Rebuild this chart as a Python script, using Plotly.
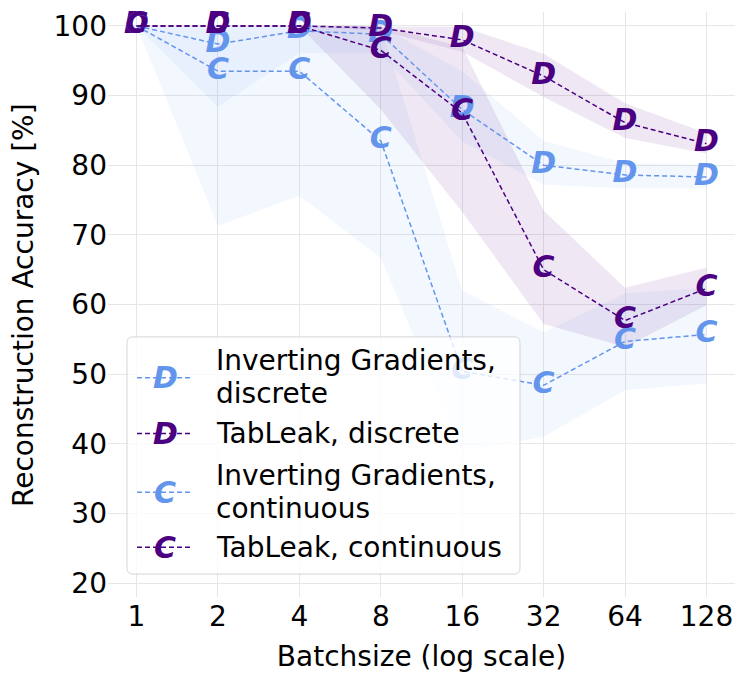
import plotly.graph_objects as go

# ---------------- data ----------------
batch_sizes = [1, 2, 4, 8, 16, 32, 64, 128]
tick_labels = ["1", "2", "4", "8", "16", "32", "64", "128"]

ig_disc = [100, 97.4, 99.3, 98.8, 88.0, 80.0, 78.6, 78.3]
tl_disc = [100, 100, 100, 99.7, 98.0, 92.8, 86.1, 83.1]
ig_cont = [100, 93.5, 93.5, 83.5, 50.4, 48.4, 54.7, 55.7]
tl_cont = [100, 100, 100, 96.5, 87.5, 65.0, 57.7, 62.3]

ig_disc_lo = [100, 88.4, 96.1, 96.0, 83.4, 77.2, 76.7, 76.7]
ig_disc_hi = [100, 100, 100, 100, 93.5, 83.5, 80.3, 80.1]
tl_disc_lo = [100, 100, 100, 99.3, 96.3, 89.8, 83.9, 81.7]
tl_disc_hi = [100, 100, 100, 100, 99.9, 96.0, 88.9, 84.6]
ig_cont_lo = [100, 71.3, 75.6, 66.7, 38.9, 41.0, 47.7, 48.7]
ig_cont_hi = [100, 100, 100, 100, 62.0, 56.0, 61.6, 62.4]
tl_cont_lo = [100, 100, 100, 88.0, 73.3, 57.2, 53.9, 59.9]
tl_cont_hi = [100, 100, 100, 100, 97.0, 73.5, 62.4, 65.3]

series_names = ["Inverting Gradients,<br>discrete", "TabLeak, discrete",
                "Inverting Gradients,<br>continuous", "TabLeak, continuous"]
series_letters = ["D", "D", "C", "C"]

# ---------------- style ----------------
BLUE = "#6495ED"
PURPLE = "#4B0082"
BLUE_FILL = "rgba(100,149,237,0.08)"
PURPLE_FILL = "rgba(75,0,130,0.09)"
FONT = "DejaVu Sans"
MK = 30

W, H = 747, 680
L, R, T, B = 108, 12, 10, 83
PW, PH = W - L - R, H - T - B


def px(x):
    return (x - L) / PW


def py(y):
    return (H - B - y) / PH


series = [
    (ig_disc, ig_disc_lo, ig_disc_hi, BLUE, BLUE_FILL),
    (tl_disc, tl_disc_lo, tl_disc_hi, PURPLE, PURPLE_FILL),
    (ig_cont, ig_cont_lo, ig_cont_hi, BLUE, BLUE_FILL),
    (tl_cont, tl_cont_lo, tl_cont_hi, PURPLE, PURPLE_FILL),
]

fig = go.Figure()

# bands
for vals, lo, hi, col, fill in series:
    fig.add_trace(go.Scatter(x=batch_sizes, y=lo, mode="lines",
                             line=dict(width=0, color=fill), showlegend=False,
                             hoverinfo="skip"))
    fig.add_trace(go.Scatter(x=batch_sizes, y=hi, mode="lines", fill="tonexty",
                             fillcolor=fill, line=dict(width=0, color=fill),
                             showlegend=False, hoverinfo="skip"))

# lines with letter markers
for (vals, lo, hi, col, fill), name, letter in zip(series, series_names, series_letters):
    fig.add_trace(go.Scatter(
        x=batch_sizes, y=vals, mode="lines+text", name=name,
        text=[letter] * len(vals), textposition="middle center",
        textfont=dict(family=FONT, size=MK, color=col, weight="bold", style="italic"),
        line=dict(color=col, width=1.5, dash="5px,3px"),
        cliponaxis=False, showlegend=False))

# ---------------- legend (drawn manually) ----------------
shapes = []
annotations = []
bx0, bx1, by0, by1 = 127, 520, 336, 574
r = 6
path = (f"M {px(bx0 + r)},{py(by0)} L {px(bx1 - r)},{py(by0)} "
        f"Q {px(bx1)},{py(by0)} {px(bx1)},{py(by0 + r)} "
        f"L {px(bx1)},{py(by1 - r)} Q {px(bx1)},{py(by1)} {px(bx1 - r)},{py(by1)} "
        f"L {px(bx0 + r)},{py(by1)} Q {px(bx0)},{py(by1)} {px(bx0)},{py(by1 - r)} "
        f"L {px(bx0)},{py(by0 + r)} Q {px(bx0)},{py(by0)} {px(bx0 + r)},{py(by0)} Z")
shapes.append(dict(type="path", path=path, xref="paper", yref="paper",
                   fillcolor="rgba(255,255,255,0.8)",
                   line=dict(color="rgba(204,204,204,0.8)", width=1), layer="above"))

entry_y = [377, 433, 492, 547]
text_lines = [[("Inverting Gradients,", 360), ("discrete", 393)],
              [("TabLeak, discrete", 433)],
              [("Inverting Gradients,", 475), ("continuous", 508)],
              [("TabLeak, continuous", 547)]]
cols = [BLUE, PURPLE, BLUE, PURPLE]
for ey, lines, col, letter in zip(entry_y, text_lines, cols, series_letters):
    shapes.append(dict(type="line", xref="paper", yref="paper",
                       x0=px(137), x1=px(193), y0=py(ey), y1=py(ey),
                       line=dict(color=col, width=1.5, dash="5px,3px"), layer="above"))
    annotations.append(dict(x=px(165), y=py(ey), xref="paper", yref="paper",
                            text=letter, showarrow=False, xanchor="center", yanchor="middle",
                            font=dict(family=FONT, size=MK, color=col, weight="bold",
                                      style="italic")))
    for txt, ty in lines:
        annotations.append(dict(x=px(214), y=py(ty), xref="paper", yref="paper",
                                text=txt, showarrow=False, xanchor="left", yanchor="middle",
                                font=dict(family=FONT, size=28, color="black")))

# y axis title
annotations.append(dict(x=px(24), y=py(304), xref="paper", yref="paper",
                        text="Reconstruction Accuracy [%]", textangle=-90, showarrow=False,
                        xanchor="center", yanchor="middle",
                        font=dict(family=FONT, size=28, color="black")))

LOG2 = 0.30103
fig.update_layout(
    width=W, height=H,
    margin=dict(l=L, r=R, t=T, b=B),
    paper_bgcolor="white", plot_bgcolor="white",
    font=dict(family=FONT, size=28, color="black"),
    showlegend=False,
    shapes=shapes, annotations=annotations,
    xaxis=dict(type="log", range=[-0.35 * LOG2, 7.35 * LOG2],
               tickvals=batch_sizes, ticktext=tick_labels,
               showgrid=True, gridcolor="#e6e6e6", gridwidth=1.2,
               zeroline=False, showline=False, ticks="",
               tickfont=dict(family=FONT, size=28),
               title=dict(text="Batchsize (log scale)", font=dict(family=FONT, size=28),
                          standoff=14)),
    yaxis=dict(range=[18, 102], tickvals=[20, 30, 40, 50, 60, 70, 80, 90, 100],
               showgrid=True, gridcolor="#e6e6e6", gridwidth=1.2,
               zeroline=False, showline=False, ticks="",
               tickfont=dict(family=FONT, size=28)),
)

fig.write_html("out.html", config={"displayModeBar": False},
               post_script="document.body.style.margin='0px';")
